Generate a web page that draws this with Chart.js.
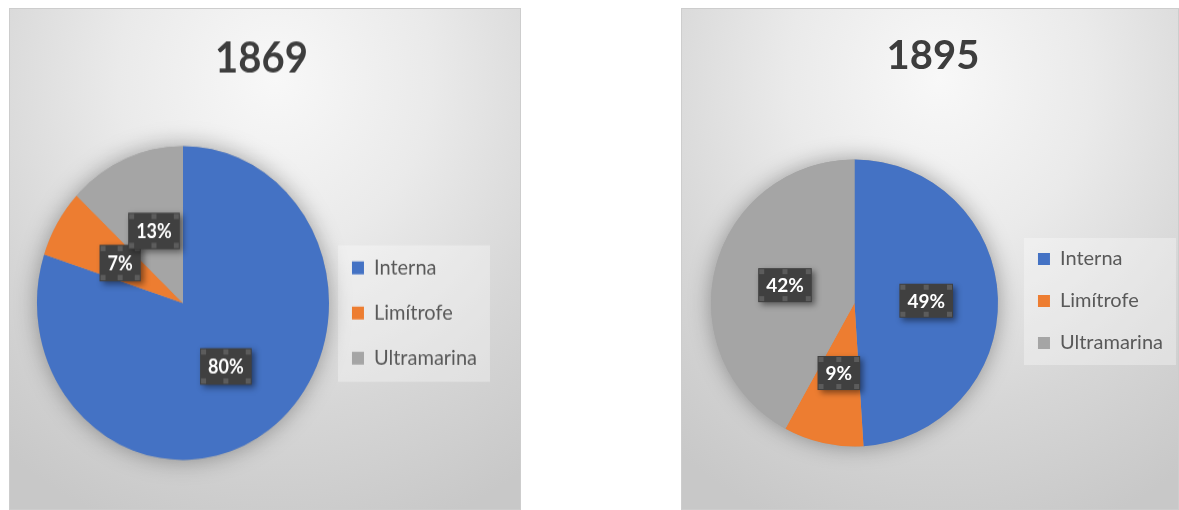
<!DOCTYPE html>
<html>
<head>
<meta charset="utf-8">
<script src="https://cdn.jsdelivr.net/npm/chart.js@4.4.1/dist/chart.umd.min.js"></script>
<style>
  body { margin: 0; background: #fff; width: 1179px; height: 510px; overflow: hidden; position: relative; }
  .panel {
    position: absolute; top: 8px; height: 502px; overflow: hidden;
    background: radial-gradient(ellipse 85% 95% at 52% 14%, #f8f8f8 0%, #eaeaea 36%, #d6d6d6 70%, #c8c8c8 100%);
    box-shadow: inset 0 0 0 1px #cdcdcd;
  }
  #p1 { left: 9px; width: 512px; }
  #p2 { left: 681px; width: 498px; }
  canvas { position: absolute; left: 0; top: 0; }
  #c1 { transform: scaleY(1.075); transform-origin: 0 0; }
</style>
</head>
<body>
<div class="panel" id="p1"><canvas id="c1" width="512" height="467"></canvas></div>
<div class="panel" id="p2"><canvas id="c2" width="498" height="502"></canvas></div>
<script>
var categories = ["Interna", "Limítrofe", "Ultramarina"];
var values1869 = [80, 7, 13];
var values1895 = [49, 9, 42];
var sliceColors = ["#4472C4", "#ED7D31", "#A5A5A5"];

var LEGEND_PAD = 22;
var LEGEND_FONT = 20;

// shadow under the pie, legend backdrop and the dark percentage boxes
var pieDecor = {
  id: 'pieDecor',
  afterLayout: function (chart, args, o) {
    chart.legend.top += o.legendShift;
    chart.legend.bottom += o.legendShift;
  },
  beforeDraw: function (chart) {
    var lg = chart.legend, ctx = chart.ctx;
    var n = chart.data.labels.length;
    var step = LEGEND_FONT + LEGEND_PAD;
    var y0 = (lg.top + LEGEND_PAD + lg.bottom - n * step) / 2;
    var first = y0 + LEGEND_FONT / 2, last = first + (n - 1) * step;
    var mx = lg.left + LEGEND_PAD;
    ctx.save();
    ctx.fillStyle = 'rgba(255,255,255,0.32)';
    ctx.fillRect(mx - 14, first - 21, 152, last - first + 43);
    ctx.restore();
  },
  beforeDatasetsDraw: function (chart) {
    var arc = chart.getDatasetMeta(0).data[0];
    var ctx = chart.ctx;
    ctx.save();
    ctx.shadowColor = 'rgba(0,0,0,0.35)';
    ctx.shadowBlur = 22;
    ctx.fillStyle = '#A5A5A5';
    ctx.beginPath();
    ctx.arc(arc.x, arc.y, arc.outerRadius, 0, Math.PI * 2);
    ctx.fill();
    ctx.restore();
  },
  afterDatasetsDraw: function (chart, args, o) {
    var ctx = chart.ctx;
    var data = chart.data.datasets[0].data;
    var total = data.reduce(function (a, b) { return a + b; }, 0);
    ctx.save();
    ctx.font = 'bold ' + o.fontSize + 'px Lato';
    chart.getDatasetMeta(0).data.forEach(function (arc, i) {
      var p = arc.tooltipPosition();
      var txt = Math.round(data[i] / total * 100) + '%';
      var w = ctx.measureText(txt).width + 16, h = 34;
      var x = p.x - w / 2, y = p.y - h / 2;
      ctx.shadowColor = 'rgba(0,0,0,0.45)';
      ctx.shadowBlur = 6;
      ctx.shadowOffsetX = 3;
      ctx.shadowOffsetY = 3;
      ctx.fillStyle = '#404040';
      ctx.fillRect(x, y, w, h);
      ctx.shadowColor = 'transparent';
      ctx.fillStyle = '#5c5c5c';
      [[x + 1, y + 1], [p.x - 2.5, y + 1], [x + w - 6, y + 1],
       [x + 1, y + h - 6], [p.x - 2.5, y + h - 6], [x + w - 6, y + h - 6]].forEach(function (q) {
        ctx.fillRect(q[0], q[1], 5, 5);
      });
      ctx.fillStyle = '#ffffff';
      ctx.textAlign = 'center';
      ctx.textBaseline = 'middle';
      ctx.fillText(txt, p.x, p.y + 1);
    });
    ctx.restore();
  }
};

function makePie(id, year, values, s) {
  return new Chart(document.getElementById(id), {
    type: 'pie',
    data: {
      labels: categories,
      datasets: [{ data: values, backgroundColor: sliceColors, borderWidth: 0 }]
    },
    options: {
      responsive: false,
      animation: false,
      layout: { padding: { left: s.left, right: s.right, top: 0, bottom: s.bottom } },
      plugins: {
        title: {
          display: true, text: year, color: '#3d3d3d',
          font: { family: 'Lato', size: 40, weight: 'bold' },
          padding: { top: s.titleTop, bottom: s.titleBottom }
        },
        legend: {
          position: 'right',
          fullSize: false,
          labels: {
            boxWidth: 12, boxHeight: 12, padding: LEGEND_PAD, color: '#595959',
            font: { family: 'Lato', size: LEGEND_FONT }
          }
        },
        tooltip: { enabled: false },
        pieDecor: { legendShift: s.shift, fontSize: s.labelSize }
      }
    },
    plugins: [pieDecor]
  });
}

makePie('c1', '1869', values1869, { left: 27, right: 34, bottom: 46.6, titleTop: 23.4, titleBottom: 57, shift: 9.3, labelSize: 18 });
makePie('c2', '1895', values1895, { left: 12, right: 6, bottom: 63.5, titleTop: 24.3, titleBottom: 79.2, shift: -2, labelSize: 19 });
</script>
</body>
</html>
